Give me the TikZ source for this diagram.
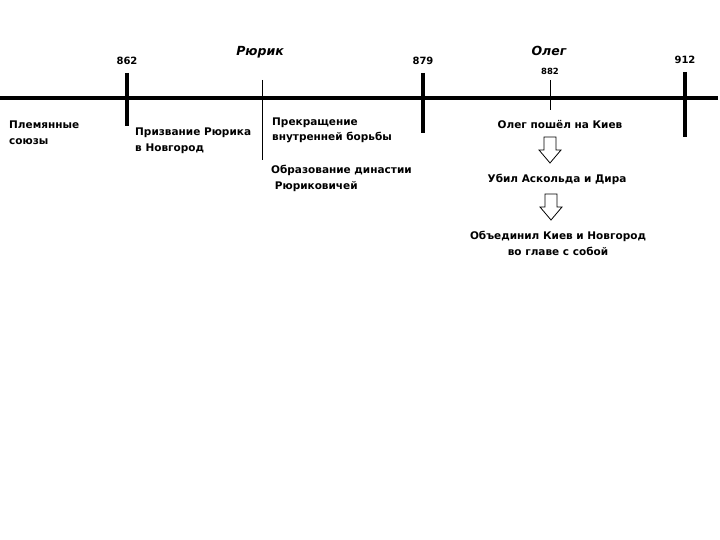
\documentclass[tikz,border=0pt]{standalone}
\usepackage{fontspec}
\setmainfont{DejaVu Sans}
\begin{document}
\begin{tikzpicture}[x=1pt,y=-1pt,
  lbl/.style={font=\fontsize{10.5}{15.5}\selectfont\bfseries, inner sep=0pt, align=left},
  lblc/.style={lbl, align=center},
  yr/.style={font=\fontsize{10}{12}\selectfont\bfseries, inner sep=0pt},
  nm/.style={font=\fontsize{12.5}{14}\selectfont\bfseries\itshape, inner sep=0pt},
  major/.style={line width=3.5pt},
  minor/.style={line width=1pt},
  harrow/.pic={\draw[line width=0.8pt, fill=white, line join=miter]
     (-6,-13) -- (6,-13) -- (6,0) -- (11,0) -- (0,13) -- (-11,0) -- (-6,0) -- cycle;}]
\useasboundingbox (0,0) rectangle (720,540);
% axis
\coordinate (L) at (0,98);
\coordinate (R) at (718,98);
\draw[line width=4pt] (L) -- (R);
% ticks
\coordinate (t1a) at (127,73); \coordinate (t1b) at (127,126);
\coordinate (t2a) at (262,80); \coordinate (t2b) at (262,160);
\coordinate (t3a) at (423,73); \coordinate (t3b) at (423,133);
\coordinate (t4a) at (550,80); \coordinate (t4b) at (550,110);
\coordinate (t5a) at (685,72); \coordinate (t5b) at (685,137);
\draw[major] (t1a) -- (t1b);
\draw[minor] (t2a) -- (t2b);
\draw[major] (t3a) -- (t3b);
\draw[minor] (t4a) -- (t4b);
\draw[major] (t5a) -- (t5b);
% years and names
\node[yr] (y862) at (127,60.5) {862};
\node[yr] (y879) at (423,60.5) {879};
\node[yr] (y912) at (685,60) {912};
\node[yr, font=\fontsize{8.5}{10}\selectfont\bfseries] (y882) at (550,71.5) {882};
\node[nm] (rurik) at (260,52) {Рюрик};
\node[nm] (oleg) at (549,50.5) {Олег};
% texts
\node[lbl, anchor=north west] (plem) at (9,121) {Племянные\\союзы};
\node[lbl, anchor=north west] (priz) at (135,128) {Призвание Рюрика\\в Новгород};
\node[lbl, anchor=north west] (prek) at (272,117.5) {Прекращение\\внутренней борьбы};
\node[lbl, anchor=north west] (obr) at (271,165) {Образование династии\\\ Рюриковичей};
\node[lblc] (poshel) at (560,124.5) {Олег пошёл на Киев};
\node[lblc] (ubil) at (557,179.5) {Убил Аскольда и Дира};
\node[lblc, anchor=north] (obed) at (558,231) {Объединил Киев и Новгород\\во главе с собой};
% hollow arrows
\coordinate (a1) at (550,150);
\coordinate (a2) at (551,207);
\pic at (a1) {harrow};
\pic at (a2) {harrow};
\end{tikzpicture}
\end{document}
